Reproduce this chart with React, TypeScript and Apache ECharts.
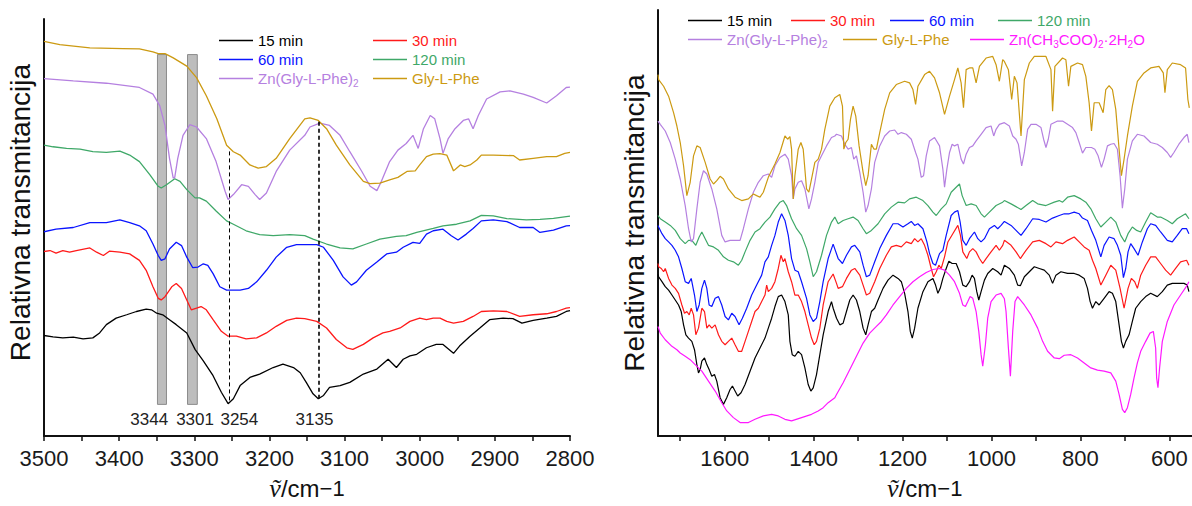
import React, { useEffect, useRef } from "react";
import * as echarts from "echarts";

// ---------- axes ----------
const leftTicks = [3500, 3450, 3400, 3350, 3300, 3250, 3200, 3150, 3100, 3050, 3000, 2950, 2900, 2850, 2800];
const leftLabels = [3500, 3400, 3300, 3200, 3100, 3000, 2900, 2800];
const rightTicks = [1700, 1600, 1500, 1400, 1300, 1200, 1100, 1000, 900, 800, 700, 600];
const rightLabels = [1600, 1400, 1200, 1000, 800, 600];

// ---------- annotations (left panel) ----------
const bandRanges = [[3349, 3337], [3309, 3296]];
const bandLow = 32;
const bandHigh = 386;
const dashedWn = [3254, 3135];
const dashedTop = [288, 318];
const dashedBottom = [33, 38];
const peakTexts = ["3344", "3301", "3254", "3135"];
const peakTextWn = [3360, 3299, 3240, 3140];
const peakTextVal = 17;

// ---------- left panel spectra (wavenumber, relative transmittance) ----------
const leftK15 = [[3500,101.7],[3488,100.3],[3475,99.3],[3461,100],[3448,98.3],[3435,99.3],[3426,104.3],[3417,112.7],[3404,119.3],[3390,122.7],[3377,126],[3364,128.3],[3357,127.7],[3350,124.3],[3342,122.7],[3333,117.7],[3324,112.7],[3310,104.3],[3299,87.7],[3288,76],[3275,61],[3264,44.3],[3255,32.7],[3248,37.7],[3239,51],[3226,59.3],[3213,62.7],[3195,69.3],[3182,72.7],[3168,69.3],[3159,64],[3151,54.3],[3142,42.7],[3135,37.7],[3128,41],[3120,49.3],[3106,51],[3093,54.3],[3075,62.7],[3057,67.7],[3042,77.7],[3031,69.3],[3022,77.7],[3013,81],[3004,82.7],[2991,89.3],[2978,92.7],[2969,92.7],[2955,83.7],[2947,91],[2933,101],[2920,109.3],[2907,117.7],[2889,119.3],[2876,118.7],[2864,114.3],[2849,117],[2831,119.3],[2818,121],[2805,126],[2800,127]];
const leftR30 = [[3500,186.7],[3492,187.7],[3484,185],[3475,187.7],[3466,186],[3457,187.7],[3439,190.3],[3430,186],[3421,182.7],[3413,187],[3399,186],[3386,184.3],[3373,177.7],[3364,167.7],[3355,151],[3348,139.3],[3344,137.7],[3339,141],[3330,151],[3324,154.3],[3317,149.3],[3310,137.7],[3304,127.7],[3297,129.3],[3291,131],[3284,127.7],[3275,117.7],[3264,106],[3255,101],[3244,101],[3231,98.3],[3217,99.3],[3204,104.3],[3191,111],[3177,117],[3164,119.3],[3153,118.7],[3137,116],[3124,109.3],[3111,97.7],[3097,89.3],[3089,87.7],[3075,92.7],[3062,99.3],[3049,104.3],[3040,106],[3026,109.3],[3013,116],[3000,119.3],[2991,117.7],[2982,119.3],[2973,119.3],[2964,116],[2955,114.3],[2942,116],[2929,121],[2918,126],[2902,126.7],[2884,126],[2867,121],[2849,122.7],[2831,123.7],[2818,126],[2805,129.3],[2800,130]];
const leftB60 = [[3500,206.7],[3484,209.3],[3461,211],[3439,216],[3417,216],[3399,218.7],[3386,216],[3373,212.7],[3364,207.7],[3355,194.3],[3348,182.7],[3344,177.7],[3339,179.3],[3333,189.3],[3324,196],[3317,192.7],[3310,181],[3302,170.3],[3295,171],[3288,174.3],[3282,172.7],[3275,164.3],[3266,151],[3257,147.7],[3239,147.7],[3228,149.3],[3217,156],[3204,167.7],[3191,181],[3177,191],[3164,193.7],[3153,193.7],[3137,193.7],[3128,191],[3115,177.7],[3102,161],[3091,152.7],[3084,156],[3071,167.7],[3057,176],[3044,184.3],[3031,186],[3022,191],[3009,196],[3000,195],[2991,204.3],[2982,207.7],[2969,209.3],[2958,202.7],[2949,198.3],[2938,204.3],[2929,210],[2918,217.7],[2902,218.7],[2884,217],[2867,211],[2849,211],[2840,206],[2822,208.3],[2805,212.7],[2800,213]];
const leftG120 = [[3500,294.3],[3488,292.7],[3470,291],[3452,290.3],[3435,287.7],[3417,287],[3399,288.3],[3386,284.3],[3373,277.7],[3359,264.3],[3348,252.7],[3344,251],[3337,254.3],[3326,260.3],[3319,257.7],[3310,249.3],[3299,241],[3293,241],[3284,237.7],[3271,227.7],[3257,217.7],[3248,214.3],[3231,207.7],[3213,203.7],[3195,202.7],[3173,203.7],[3153,202.7],[3142,199.3],[3124,194.3],[3106,190.3],[3089,189.3],[3071,194.3],[3053,199.3],[3031,202],[3018,202.7],[3004,206],[2982,210],[2969,212.7],[2951,214.3],[2933,217.7],[2918,223.3],[2902,222.7],[2884,220],[2858,218.7],[2840,219.3],[2822,220.3],[2805,222],[2800,222.5]];
const leftZn = [[3500,361.7],[3461,359.3],[3417,357],[3373,352.7],[3355,346],[3346,334.3],[3339,314.3],[3333,281],[3328,261],[3326,261.7],[3322,281],[3315,304.3],[3306,315],[3297,312.7],[3284,301],[3271,277.7],[3259,247.7],[3255,239.3],[3248,244.3],[3237,254.3],[3228,252.7],[3219,244.3],[3213,239.3],[3204,246],[3191,267.7],[3173,289.3],[3153,304.3],[3146,312.7],[3133,316.7],[3120,314.3],[3106,304.3],[3093,287.7],[3077,267.7],[3066,252.7],[3057,248.3],[3051,257.7],[3040,277.7],[3029,289.3],[3018,296],[3009,304.3],[3002,291],[2995,311],[2986,324.3],[2980,321],[2973,301],[2969,286],[2962,301],[2953,311],[2942,319.3],[2935,321],[2929,311],[2922,324.3],[2911,341],[2893,348.3],[2880,349.3],[2862,346],[2849,342.7],[2831,337],[2818,344.3],[2805,352.7],[2800,353]];
const leftGly = [[3500,399.3],[3479,396],[3439,392.7],[3395,392],[3373,391.7],[3355,388.7],[3348,387],[3339,387],[3328,382.7],[3310,374.3],[3297,362.7],[3284,344.3],[3270,321],[3257,294.3],[3248,287.7],[3239,284.3],[3226,274.3],[3215,271],[3204,272.7],[3191,281],[3173,301],[3153,321],[3146,322],[3135,319.3],[3124,311],[3111,294.3],[3093,274.3],[3075,257.7],[3066,255.3],[3053,256],[3040,259.3],[3029,261.7],[3017,267.7],[3006,268.3],[3000,274.3],[2991,282.7],[2982,285.3],[2973,285.7],[2964,284.3],[2955,268.3],[2951,271],[2946,274.3],[2940,272.7],[2933,274.3],[2924,279.3],[2918,284.3],[2902,284.3],[2875,283.7],[2867,279.3],[2849,281],[2831,282.7],[2818,282.7],[2807,286],[2800,287]];

// ---------- right panel spectra ----------
const rightK15 = [[1750,162.5],[1748.6,160.2],[1741.1,155.2],[1733.7,150.2],[1726.2,146.8],[1718.7,141.8],[1711.2,136.8],[1703.8,131.8],[1697.8,125.2],[1692.5,111.8],[1687.3,101.8],[1681.3,98.5],[1673.9,95.2],[1667.9,86.8],[1662.6,71.8],[1658.9,63.5],[1655.2,66.8],[1651.4,75.2],[1645.4,78.5],[1640.2,71.8],[1635,66.8],[1629,60.2],[1623,61.8],[1617.8,55.2],[1610.3,38.5],[1602.8,31.8],[1595.4,38.5],[1587.9,46.8],[1582.6,50.2],[1576.7,45.2],[1570.7,40.2],[1563.2,43.5],[1554.2,51.8],[1543,65.2],[1531.8,78.5],[1520.6,88.5],[1509.4,98.5],[1501.9,108.5],[1494.4,118.5],[1487,130.2],[1479.5,140.2],[1472,141.8],[1464.5,135.2],[1457,121.8],[1453.3,95.2],[1448.1,81.8],[1442.1,80.2],[1434.6,85.2],[1427.1,81.8],[1419.6,68.5],[1412.2,51.8],[1406.2,45.2],[1400.9,48.5],[1393.5,61.8],[1386,81.8],[1378.5,101.8],[1367.3,125.2],[1359.8,135.2],[1356,128.5],[1348.5,118.5],[1341.1,111.8],[1333.6,113.5],[1326.1,125.2],[1318.6,136.8],[1311.2,141.8],[1303.7,136.8],[1296.2,125.2],[1288.7,108.5],[1282.7,101.8],[1277.5,111.8],[1270,125.2],[1262.6,128.5],[1255.1,136.8],[1243.9,148.5],[1232.7,156.8],[1221.4,161.8],[1210.2,158.5],[1202.7,155.2],[1195.3,143.5],[1187.8,125.2],[1182.6,105.2],[1178.1,98.5],[1172.8,108.5],[1165.4,128.5],[1154.1,145.2],[1142.9,155.2],[1131.7,158.5],[1125.7,151.8],[1120.5,143.5],[1115.3,148.5],[1109.3,158.5],[1101.8,168.5],[1095.8,175.8],[1088.4,173.5],[1079.4,173.5],[1071.9,165.2],[1064.4,151.8],[1056.9,150.2],[1049.5,155.2],[1043.5,161.8],[1038.3,158.5],[1033,145.2],[1028.5,136.8],[1023.3,145.2],[1015.8,156.8],[1008.4,163.5],[997.1,168.5],[985.9,165.2],[978.4,161.8],[970.9,171.8],[959.7,168.5],[948.5,161.8],[941,151.8],[935,151.2],[926,160.2],[914.8,165.2],[903.6,170.2],[892.4,168.5],[881.2,166.8],[870,161.8],[862.5,153.5],[855,161.8],[843.8,165.2],[828.8,163.5],[813.9,163.5],[802.7,161.8],[791.5,158.5],[784,148.5],[778,135.2],[772.8,128.5],[765.3,135.2],[757.8,131.8],[746.6,138.5],[735.4,145.2],[727.9,143.5],[720.4,135.2],[712.9,111.8],[707.7,95.2],[703.2,88.5],[698,95.2],[690.5,101.8],[683.1,115.2],[675.6,128.5],[664.3,135.2],[653.1,140.2],[641.9,143.5],[627,140.2],[615.7,145.2],[604.5,151.8],[593.3,153.5],[582.1,153.5],[567.1,153.5],[559.6,151.8],[555.9,145.2]];
const rightR30 = [[1750,173.5],[1748.6,170.2],[1742.6,168.5],[1737.4,165.2],[1733.7,168.5],[1726.2,158.5],[1718.7,151.8],[1711.2,148.5],[1703.8,143.5],[1696.3,131.8],[1690.3,123.5],[1685.1,125.2],[1679.8,121.8],[1675.3,128.5],[1670.1,121.8],[1664.9,101.8],[1658.9,108.5],[1651.4,128.5],[1645.4,125.2],[1640.2,108.5],[1635,111.8],[1629,108.5],[1621.5,111.8],[1614,101.8],[1606.6,95.2],[1599.1,91.8],[1591.6,95.2],[1584.1,98.5],[1576.7,91.8],[1569.2,85.2],[1561.7,85.2],[1554.2,95.2],[1546.7,105.2],[1539.3,115.2],[1531.8,125.2],[1524.3,128.5],[1516.8,135.2],[1509.4,141.8],[1505.6,151.8],[1501.9,145.2],[1494.4,148.5],[1487,155.2],[1479.5,168.5],[1473.5,181.8],[1468.2,175.2],[1464.5,178.5],[1457,165.2],[1449.6,155.2],[1442.1,141.8],[1434.6,141.8],[1427.1,135.2],[1419.6,125.2],[1412.2,111.8],[1404.7,98.5],[1398.7,91.8],[1393.5,95.2],[1386,108.5],[1378.5,131.8],[1367.3,155.2],[1356.1,163],[1348.5,153.5],[1344.8,148.5],[1335.1,150.2],[1326.1,158.5],[1314.9,166.8],[1307.4,168.5],[1296.2,161.8],[1288.7,151.8],[1281.3,141.8],[1273.8,143.5],[1262.6,155.2],[1251.3,168.5],[1236.4,181.8],[1225.2,190.2],[1214,191.8],[1202.7,190.2],[1191.5,195.2],[1180.3,193.5],[1172.8,198.5],[1165.4,195.2],[1157.9,198.5],[1150.4,191.8],[1142.9,181.8],[1135.5,168.5],[1130.2,160.2],[1124.2,165.2],[1118.3,171.8],[1113,168.5],[1105.5,180.2],[1098,195.2],[1086.9,203.5],[1075.6,211.8],[1069.7,201.8],[1064.4,185.2],[1055.5,178.5],[1049.5,185.2],[1042,188.5],[1034.5,185.2],[1027,178.5],[1019.6,173.5],[1012.1,178.5],[1000.9,185.2],[989.6,191.8],[982.2,186.8],[974.7,191.8],[970.9,196.8],[955.9,191.8],[944.7,185.2],[935,178.5],[922.3,186.8],[907.3,195.2],[892.4,196.8],[877.4,193.5],[866.2,190.2],[855,195.2],[840.1,193.5],[828.8,196.8],[813.9,200.2],[802.7,195.2],[791.5,190.2],[780.3,186.8],[772.8,176.8],[765.3,168.5],[754,151.8],[742.8,161.8],[731.6,171.8],[720.4,166.8],[710.7,148.5],[701.7,128.5],[692.8,148.5],[685.3,158.5],[677.8,155.2],[671.8,148.5],[664.3,161.8],[653.1,171.8],[641.9,180.2],[630.7,180.2],[619.5,173.5],[608.3,166.8],[597,161.8],[585.8,168.5],[574.6,175.2],[561.1,176.8],[555.9,171.8]];
const rightB60 = [[1750,211.8],[1748.6,210.2],[1741.1,203.5],[1733.7,198.5],[1726.2,195.2],[1718.7,191.8],[1711.2,186.8],[1703.8,180.2],[1696.3,168.5],[1688.8,155.2],[1681.3,153.5],[1675.3,158.5],[1667.9,141.8],[1662.6,125.2],[1657.4,131.8],[1651.4,148.5],[1645.4,156.8],[1640.2,148.5],[1635,131.8],[1629,130.2],[1621.5,138.5],[1614,140.2],[1606.6,131.8],[1599.1,120.2],[1591.6,116.8],[1584.1,123.5],[1576.7,120.2],[1567.7,111.8],[1560.2,118.5],[1550.5,128.5],[1539.3,141.8],[1528.1,151.8],[1516.8,161.8],[1509.4,175.2],[1501.9,180.2],[1494.4,191.8],[1487,201.8],[1479.5,215.2],[1472,223.5],[1464.5,216.8],[1457,201.8],[1449.6,178.5],[1442.1,166.8],[1434.6,165.2],[1427.1,155.2],[1415.9,138.5],[1408.4,121.8],[1400.9,115.2],[1393.5,118.5],[1386,135.2],[1378.5,155.2],[1367.3,178.5],[1356.1,193],[1344.8,178.5],[1335.1,173.5],[1326.1,181.8],[1314.9,190.2],[1307.4,191.8],[1296.2,185.2],[1288.7,171.8],[1281.3,160.2],[1273.8,161.8],[1262.6,175.2],[1251.3,188.5],[1236.4,201.8],[1221.4,213.5],[1210.2,213.5],[1199,210.2],[1187.8,213.5],[1180.3,215.8],[1172.8,211.8],[1165.4,213.5],[1154.1,208.5],[1145.2,195.2],[1139.2,183.5],[1131.7,173.5],[1125.7,171.8],[1116.8,183.5],[1109.3,186.8],[1101.8,201.8],[1090.6,221.8],[1083.1,225.2],[1075.6,226.8],[1070.4,215.2],[1064.4,196.8],[1056.9,191.8],[1049.5,198.5],[1038.2,205.2],[1030.8,198.5],[1023.3,195.2],[1015.8,198.5],[1004.6,208.5],[993.4,211.8],[985.9,208.5],[978.4,211.8],[970.9,215.8],[955.9,211.8],[944.7,206.8],[933.5,201.8],[922.3,208.5],[907.3,218.5],[892.4,217.8],[877.4,215.2],[862.5,219.2],[847.5,221.8],[836.3,223.5],[825.1,223.5],[813.9,225.2],[802.7,223.5],[795.2,219.2],[784,216.8],[775,206.8],[765.3,196.8],[754,180.2],[746.6,191.8],[735.4,200.2],[724.2,198.5],[716.7,191.8],[709.2,181.8],[703.2,159.2],[698,168.5],[692.8,185.2],[686.8,193.5],[679.3,188.5],[670.3,181.8],[660.6,195.2],[649.4,208.5],[641.9,213.5],[630.7,211.8],[619.5,205.2],[604.5,196.8],[593.3,195.2],[582.1,201.8],[570.9,208.5],[561.1,208.5],[555.9,203.5]];
const rightG120 = [[1750,221.8],[1744.9,218.5],[1733.7,215.2],[1722.5,211.8],[1711.2,206.8],[1700,198.5],[1688.8,193.5],[1681.3,196.8],[1673.9,196.8],[1664.9,191.8],[1657.4,200.2],[1651.4,205.2],[1643.9,198.5],[1636.5,191.8],[1625.2,190.2],[1614,186.8],[1602.8,180.2],[1591.6,176.8],[1580.4,175.2],[1569.2,171.8],[1561.7,176.8],[1554.2,185.2],[1543,196.8],[1531.8,205.2],[1520.6,208.5],[1509.4,215.2],[1498.2,220.2],[1487,228.5],[1475.7,235.2],[1468.2,236.8],[1460.8,231.8],[1449.6,218.5],[1438.3,208.5],[1427.1,201.8],[1415.9,188.5],[1408.4,175.2],[1400.9,160.2],[1393.5,165.2],[1382.2,181.8],[1371,201.8],[1359.8,215.2],[1352.3,220.2],[1344.8,213.5],[1333.6,216.8],[1322.4,218.5],[1311.2,220.2],[1300,216.8],[1288.7,208.5],[1281.3,203.5],[1270,206.8],[1255.1,213.5],[1240.1,223.5],[1225.2,230.2],[1210.2,235.2],[1195.3,234.5],[1184.1,238.5],[1169.1,240.2],[1154.1,236.8],[1142.9,231.8],[1131.7,225.2],[1124.2,221.8],[1113,228.5],[1101.8,233.5],[1090.6,245.2],[1079.4,250.2],[1071.9,253.5],[1065.9,241.8],[1056.9,231.8],[1045.7,233.5],[1034.5,231.8],[1023.3,223.5],[1015.8,220.2],[1004.6,225.2],[989.6,231.8],[974.7,235.2],[970.9,236.8],[955.9,233.5],[933.5,227.8],[922.3,231.8],[907.3,236.8],[896.1,233.5],[877.4,231.8],[858.7,235.2],[847.5,236.8],[840,235.2],[828.8,240.2],[813.9,241.8],[798.9,238.5],[787.7,235.2],[776.5,228.5],[765.3,218.5],[754,210.2],[742.8,215.2],[731.6,220.2],[720.4,215.2],[709.2,201.8],[700.2,195.2],[692.8,203.5],[683.1,210.2],[673.3,206.8],[664.3,205.2],[653.1,215.2],[641.9,224.5],[627,220.2],[619.5,220.2],[604.5,216.8],[593.3,213.5],[582.1,218.5],[563.4,223.5],[555.9,218.5]];
const rightZn = [[1750,316.8],[1744.9,313.5],[1733.7,306.8],[1722.5,295.2],[1711.2,278.5],[1700,258.5],[1688.8,231.8],[1681.3,208.5],[1675.3,195.2],[1670.1,198.5],[1662.6,228.5],[1655.2,255.2],[1647.7,266.8],[1640.2,263.5],[1629,248.5],[1617.8,228.5],[1606.6,201.8],[1599.1,195.2],[1587.9,196.8],[1576.7,196.8],[1565.4,196.8],[1558,208.5],[1546.7,228.5],[1535.5,245.2],[1524.3,255.2],[1513.1,261.8],[1501.9,263.5],[1494.4,260.2],[1487,271.8],[1475.7,280.2],[1464.5,283.5],[1457,278.5],[1449.6,261.8],[1445.8,238.5],[1442.1,248.5],[1434.6,255.2],[1427.1,256.8],[1419.6,248.5],[1410.7,228.5],[1404.7,238.5],[1397.2,255.2],[1389.7,275.2],[1382.2,281.8],[1371,291.8],[1359.8,300.2],[1352.3,301.8],[1348.5,303.5],[1337.3,301.8],[1329.9,293.5],[1322.4,288.5],[1314.9,290.2],[1309.7,278.5],[1303.7,281.8],[1296.2,265.2],[1288.7,245.2],[1282.7,225.2],[1277.5,231.8],[1270,248.5],[1262.6,275.2],[1251.3,291.8],[1240.1,301.8],[1228.9,306.8],[1217.7,307.8],[1210.2,303.5],[1202.7,305.2],[1191.5,303.5],[1180.3,298.5],[1170.6,285.2],[1165.4,278.5],[1157.9,260.2],[1152.7,261.8],[1146.7,281.8],[1139.2,296.8],[1128,300.2],[1116.8,291.8],[1109.3,268.5],[1105.5,250.2],[1100.3,268.5],[1094.3,285.2],[1088.4,293.5],[1083.1,291.8],[1075.6,293.5],[1068.2,278.5],[1062.9,273.5],[1056.9,283.5],[1049.5,290.2],[1042,291.8],[1034.5,296.8],[1023.3,303.5],[1012.1,310.2],[1000.9,311.8],[994.9,301.8],[989.6,308.5],[982.2,313.5],[970.9,315.2],[959.7,311.8],[952.2,301.8],[944.7,298.5],[939.5,293.5],[932,271.8],[926,285.2],[918.6,308.5],[911.1,313.5],[899.9,313.5],[888.6,310.2],[882.7,298.5],[877.4,290.2],[872.2,298.5],[866.2,313.5],[851.3,316.8],[840.1,316.8],[828.8,313.5],[817.6,310.2],[810.1,305.2],[802.7,295.2],[795.2,284.5],[787.7,290.2],[775,290.2],[767.5,288.5],[760.1,281.8],[752.6,270.2],[746.6,278.5],[739.1,291.8],[731.6,293.5],[724.2,294.2],[716.7,288.5],[710.7,261.8],[705.5,229.2],[700.2,248.5],[694.2,278.5],[683.1,296.8],[671.8,303.5],[656.9,301.8],[641.9,295.2],[627,293.5],[615.7,290.2],[604.5,285.2],[597,280.2],[589.6,285.2],[578.4,293.5],[567.1,300.2],[559.6,303.5],[555.9,295.2]];
const rightGly = [[1750,363.5],[1748.6,358.5],[1737.4,351.8],[1726.2,341.8],[1715,325.2],[1707.5,311.8],[1700,295.2],[1692.5,271.8],[1685.1,241.8],[1677.6,255.2],[1670.1,281.8],[1662.6,291.8],[1655.2,290.2],[1643.9,275.2],[1632.7,258.5],[1625.2,253.5],[1617.8,256.8],[1610.3,261.2],[1602.8,258.5],[1591.6,248.5],[1576.7,240.2],[1561.7,236.8],[1546.7,238.5],[1535.5,243.5],[1528.1,241.8],[1520.6,240.2],[1513.1,245.2],[1501.9,260.2],[1487,273.5],[1475.7,285.2],[1464.5,301.8],[1458.5,298.5],[1453.3,301.2],[1449.6,288.5],[1445.8,238.5],[1442.1,261.8],[1434.6,288.5],[1428.6,295.2],[1423.4,288.5],[1415.9,248.5],[1410.7,245.2],[1404.7,258.5],[1397.2,275.2],[1389.7,278.5],[1382.2,288.5],[1374.8,308.5],[1363.6,331.8],[1352.3,340.2],[1341.1,343.5],[1335.1,331.8],[1332.1,288.5],[1327.6,295.2],[1322.4,298.5],[1317.1,318.5],[1311.2,331.8],[1305.2,321.8],[1297.7,291.8],[1288.7,265.2],[1282.7,251.8],[1277.5,261.8],[1270,293.5],[1264.1,288.5],[1258.8,288.5],[1251.3,305.2],[1240.1,328.5],[1228.9,345.2],[1214,353.5],[1195.3,356.8],[1184.1,355.2],[1176.6,348.5],[1170.6,333.5],[1165.4,351.8],[1150.4,363.5],[1139.2,366.8],[1128,360.2],[1116.8,345.2],[1105.5,323.5],[1094.3,341.8],[1083.1,358.5],[1075.6,370.2],[1068.2,355.2],[1062.9,330.2],[1056.9,368.5],[1049.5,370.2],[1042,370.2],[1034.5,355.2],[1027,371.8],[1012.1,380.2],[997.1,381.8],[989.6,373.5],[982.2,356.8],[974.7,378.5],[970.9,376.8],[961.9,368.5],[954.5,338.5],[948.5,361.8],[942.5,355.2],[933.5,301.8],[926,358.5],[914.8,375.2],[903.6,381.8],[877.4,381.8],[866.2,368.5],[862.5,326.8],[857.3,371.8],[840.1,380.2],[832.6,378.5],[826.6,351.8],[821.4,371.8],[806.4,375.2],[795.2,373.5],[787.7,361.8],[780.3,335.2],[775,306.8],[769,335.2],[757.8,335.2],[748.8,325.2],[742.8,348.5],[735.4,352.5],[727.9,348.5],[720.4,328.5],[712.9,288.5],[707.7,261.8],[701.7,278.5],[694.2,301.8],[683.1,331.8],[671.8,356.8],[656.9,365.2],[641.9,370.2],[623.2,371.8],[613.5,365.2],[609.8,345.2],[604.5,368.5],[593.3,375.2],[574.6,373.5],[563.4,370.2],[558.2,338.5],[555,330]];
const rightAc = [[1750,110.2],[1744.9,103.5],[1733.7,96.8],[1718.7,90.2],[1707.5,86.8],[1700,83.5],[1688.8,80.2],[1677.6,76.8],[1666.4,71.8],[1651.4,65.2],[1636.5,55.2],[1621.5,45.2],[1606.6,33.5],[1595.3,25.2],[1580.4,18.5],[1565.4,13.5],[1546.7,13.5],[1531.8,16.8],[1513.1,20.2],[1494.4,21.8],[1479.5,20.2],[1464.5,16.8],[1449.6,15.2],[1427.1,18.5],[1404.7,21.8],[1389.7,25.2],[1378.5,28.5],[1367.3,33.5],[1352.3,38.5],[1348.5,41.8],[1333.6,53.5],[1318.6,66.8],[1303.7,80.2],[1288.7,93.5],[1273.8,103.5],[1258.8,110.2],[1247.6,115.2],[1236.4,121.8],[1221.4,131.8],[1206.5,140.2],[1191.5,148.5],[1176.6,155.2],[1161.6,160.2],[1146.7,164.5],[1131.7,167.5],[1116.8,168.5],[1105.5,166.8],[1094.3,161.8],[1083.1,155.2],[1071.9,143.5],[1064.4,131.8],[1058.5,130.2],[1053.2,135.2],[1048,140.2],[1042,138.5],[1034.5,125.2],[1028.5,105.2],[1023.3,81.8],[1019.6,70.2],[1013.6,91.8],[1008.4,118.5],[1000.9,135.2],[989.6,141.8],[978.4,143.5],[970.9,138],[967.2,125.2],[961.9,88.5],[957.4,60.2],[952.2,105.2],[947,135.2],[941,140.2],[926,131.8],[911.1,121.8],[896.1,108.5],[884.9,95.2],[873.7,85.2],[858.7,78.5],[847.5,77.8],[836.3,81.2],[821.4,81.8],[806.4,78.5],[791.5,73.5],[776.5,68.5],[761.5,66.2],[746.6,65.2],[731.6,63.5],[720.4,55.2],[712.9,41.8],[705.5,26.8],[700.2,23.5],[694.2,28.5],[686.8,41.8],[679.3,58.5],[671.8,73.5],[664.3,85.2],[653.1,95.2],[643.4,103.5],[635.9,105.2],[630.7,88.5],[628.5,58.5],[625.5,48.5],[621.8,68.5],[615.7,95.2],[604.5,115.2],[589.6,131.8],[574.6,141.8],[559.6,151.8],[555.9,155.2]];

const seriesNames = ["15 min", "30 min", "60 min", "120 min", "Zn(Gly-L-Phe)2", "Gly-L-Phe", "Zn(CH3COO)2·2H2O"];

// ---------- styling ----------
const FONT = "'Liberation Sans', Arial, Helvetica, sans-serif";
const COLORS: Record<string, string> = {
  "15 min": "#000000",
  "30 min": "#ff1a1a",
  "60 min": "#0a14ff",
  "120 min": "#3fa868",
  "Zn(Gly-L-Phe)2": "#b580e0",
  "Gly-L-Phe": "#cc9a12",
  "Zn(CH3COO)2·2H2O": "#ff19ff",
};
const LEFT_DATA: Record<string, number[][]> = {
  "15 min": leftK15, "30 min": leftR30, "60 min": leftB60, "120 min": leftG120,
  "Zn(Gly-L-Phe)2": leftZn, "Gly-L-Phe": leftGly,
};
const RIGHT_DATA: Record<string, number[][]> = {
  "15 min": rightK15, "30 min": rightR30, "60 min": rightB60, "120 min": rightG120,
  "Zn(Gly-L-Phe)2": rightZn, "Gly-L-Phe": rightGly, "Zn(CH3COO)2·2H2O": rightAc,
};
const LEFT_LEGEND: [string, number, number][] = [
  ["15 min", 219, 33], ["30 min", 373, 33],
  ["60 min", 219, 52], ["120 min", 373, 52],
  ["Zn(Gly-L-Phe)2", 219, 71], ["Gly-L-Phe", 373, 71],
];
const RIGHT_LEGEND: [string, number, number][] = [
  ["15 min", 688, 13], ["30 min", 791, 13], ["60 min", 890, 13], ["120 min", 998, 13],
  ["Zn(Gly-L-Phe)2", 688, 32], ["Gly-L-Phe", 843, 32], ["Zn(CH3COO)2·2H2O", 970, 32],
];

function fmtName(n: string): string {
  if (n === "Zn(Gly-L-Phe)2") return "{n|Zn(Gly-L-Phe)}{s|2}";
  if (n === "Zn(CH3COO)2·2H2O") return "{n|Zn(CH}{s|3}{n|COO)}{s|2}{n|·2H}{s|2}{n|O}";
  return "{n|" + n + "}";
}

function legendFor(name: string, left: number, top: number) {
  const color = COLORS[name];
  return {
    show: true, left, top, padding: 0, itemWidth: 34, itemHeight: 1.5, itemGap: 0,
    icon: "rect", itemStyle: { color, borderWidth: 0 },
    selectedMode: false, data: [name], formatter: fmtName,
    textStyle: {
      color, fontFamily: FONT, fontSize: 15,
      rich: {
        n: { color, fontFamily: FONT, fontSize: 15, lineHeight: 20 },
        s: { color, fontFamily: FONT, fontSize: 10, lineHeight: 10, verticalAlign: "bottom" },
      },
    },
  };
}

const xName = "{v|ṽ}{t|/cm}{e|−1}";
const xNameStyle = {
  rich: {
    v: { fontFamily: "'Liberation Serif', 'DejaVu Serif', serif", fontStyle: "italic", fontSize: 26, color: "#111" },
    t: { fontFamily: FONT, fontSize: 24, color: "#111" },
    e: { fontFamily: FONT, fontSize: 22, color: "#111" },
  },
};

function xAxisFor(grid: number, min: number, max: number, ticks: number[], labels: number[]) {
  return {
    gridIndex: grid, type: "value", min, max, inverse: true,
    axisLine: { show: true, onZero: false, lineStyle: { color: "#111", width: 2 } },
    axisTick: { show: true, customValues: ticks, length: 5, lineStyle: { color: "#111", width: 1.5 } },
    axisLabel: {
      customValues: labels, fontSize: 22, color: "#1a1a1a", fontFamily: FONT, margin: 11,
      formatter: (v: number) => String(v),
    },
    splitLine: { show: false },
    name: xName, nameLocation: "middle", nameGap: 39, nameTextStyle: xNameStyle,
  };
}

function yAxisFor(grid: number, max: number, pad: number[]) {
  return {
    gridIndex: grid, type: "value", min: 0, max,
    axisLine: { show: true, onZero: false, lineStyle: { color: "#111", width: 2 } },
    axisTick: { show: false }, axisLabel: { show: false }, splitLine: { show: false },
    name: "Relativna transmitancija", nameLocation: "middle", nameRotate: 90, nameGap: 10,
    nameTextStyle: { fontSize: 28, color: "#111", fontFamily: FONT, padding: pad },
  };
}

export default function App() {
  const ref = useRef<HTMLDivElement>(null);
  useEffect(() => {
    if (!ref.current) return;
    const chart = echarts.init(ref.current, null, { renderer: "svg" });

    const series: any[] = [];
    series.push({
      name: "marks", type: "line", xAxisIndex: 0, yAxisIndex: 0, data: [], z: 1, silent: true,
      markArea: {
        silent: true,
        itemStyle: { color: "#bdbdbd", borderColor: "#8c8c8c", borderWidth: 1, opacity: 1 },
        data: bandRanges.map(([a, b]) => [{ xAxis: a, yAxis: bandLow }, { xAxis: b, yAxis: bandHigh }]),
      },
      markLine: {
        silent: true, symbol: ["none", "none"], label: { show: false },
        lineStyle: { type: [4, 3], color: "#000", width: 1 },
        data: dashedWn.map((w, i) => [
          { coord: [w, dashedTop[i]], lineStyle: { width: i === 0 ? 1 : 1.6, type: [4, 3], color: "#000" } },
          { coord: [w, dashedBottom[i]] },
        ]),
      },
      markPoint: {
        silent: true, symbol: "rect", symbolSize: 1, itemStyle: { color: "rgba(0,0,0,0)" },
        label: { show: true, position: "inside", formatter: "{b}", fontSize: 17, color: "#222", fontFamily: FONT },
        data: peakTexts.map((t, i) => ({
          name: t, coord: [peakTextWn[i], peakTextVal],
          label: { show: true, position: "inside", formatter: "{b}", fontSize: 17, color: "#222", fontFamily: FONT },
        })),
      },
    });
    seriesNames.forEach((n) => {
      if (LEFT_DATA[n]) {
        series.push({
          name: n, type: "line", xAxisIndex: 0, yAxisIndex: 0, data: LEFT_DATA[n], z: 3,
          symbol: "none", showSymbol: false, lineStyle: { color: COLORS[n], width: 1.3 }, itemStyle: { color: COLORS[n] },
        });
      }
      series.push({
        name: n, type: "line", xAxisIndex: 1, yAxisIndex: 1, data: RIGHT_DATA[n], z: 3,
        symbol: "none", showSymbol: false, lineStyle: { color: COLORS[n], width: 1.2 }, itemStyle: { color: COLORS[n] },
      });
    });

    chart.setOption({
      animation: false,
      backgroundColor: "#ffffff",
      grid: [
        { left: 44, top: 19, width: 526, height: 422 },
        { left: 658, top: 10, width: 535, height: 428.5 },
      ],
      xAxis: [
        xAxisFor(0, 2800, 3500, leftTicks, leftLabels),
        xAxisFor(1, 550, 1750, rightTicks, rightLabels),
      ],
      yAxis: [yAxisFor(0, 422, [0, 0, 0, 30]), yAxisFor(1, 428.5, [0, 0, 0, 0])],
      legend: [
        ...LEFT_LEGEND.map(([n, l, t]) => legendFor(n, l, t)),
        ...RIGHT_LEGEND.map(([n, l, t]) => legendFor(n, l, t)),
      ],
      series,
    });
    return () => chart.dispose();
  }, []);
  return <div ref={ref} style={{ position: "absolute", left: 0, top: 0, width: 1192, height: 506 }} />;
}
